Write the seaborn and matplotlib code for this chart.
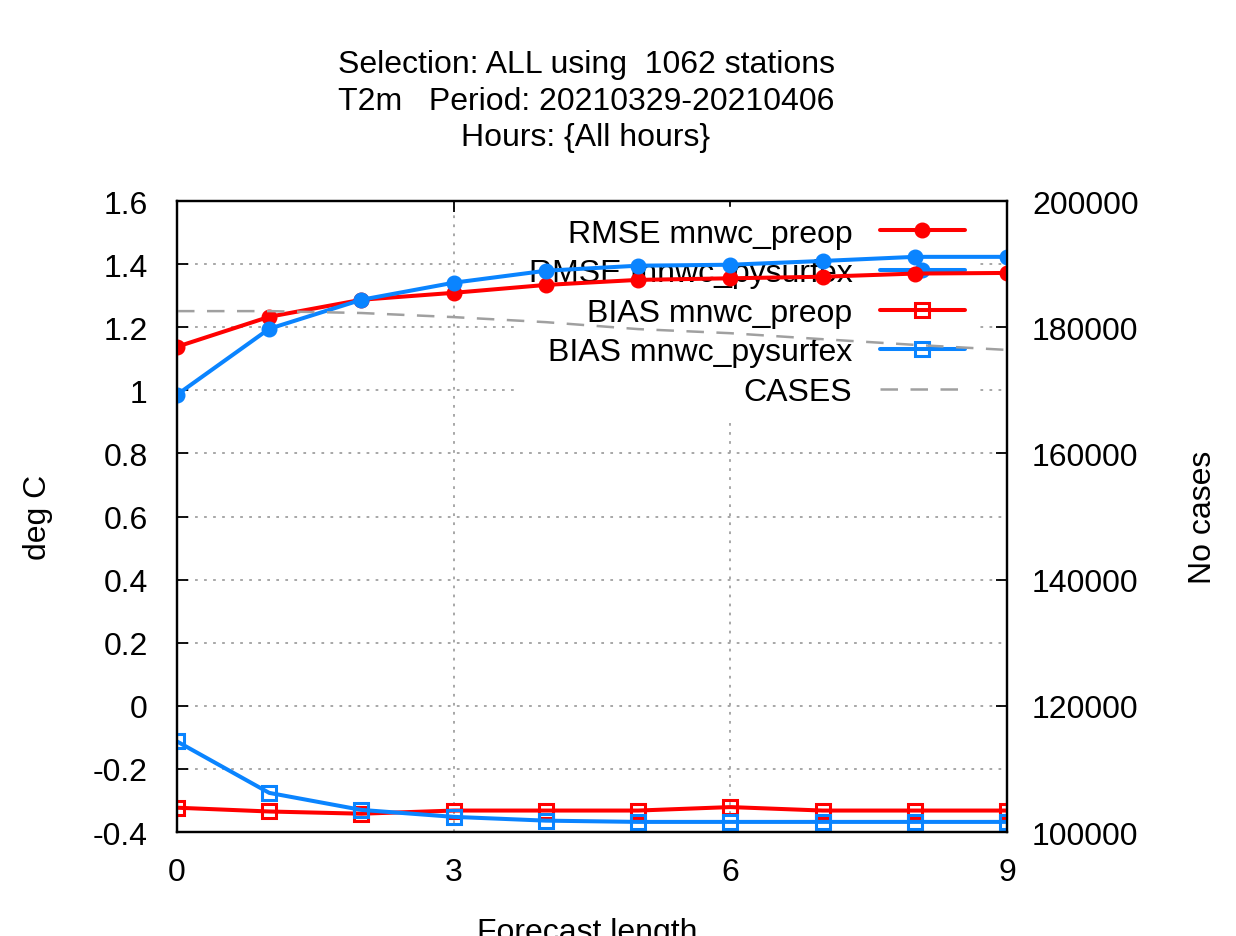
import matplotlib
matplotlib.use("Agg")
import matplotlib.pyplot as plt
import seaborn as sns


OUT_PATH = "out.png"

# forecast length (hours)
lead_times = [0, 1, 2, 3, 4, 5, 6, 7, 8, 9]

# scores
rmse_preop = [1.138, 1.233, 1.287, 1.309, 1.334, 1.350, 1.355, 1.360, 1.370, 1.372]
rmse_pysurfex = [0.986, 1.195, 1.287, 1.341, 1.379, 1.395, 1.398, 1.410, 1.423, 1.423]
bias_preop = [-0.323, -0.335, -0.342, -0.332, -0.332, -0.332, -0.321, -0.332, -0.332, -0.332]
bias_pysurfex = [-0.113, -0.276, -0.330, -0.352, -0.364, -0.368, -0.368, -0.368, -0.368, -0.368]
cases = [182550, 182550, 182250, 181600, 180800, 179700, 179050, 178100, 177200, 176400]

left_ticks = [-0.4, -0.2, 0, 0.2, 0.4, 0.6, 0.8, 1, 1.2, 1.4, 1.6]
left_tick_labels = ["-0.4", "-0.2", "0", "0.2", "0.4", "0.6", "0.8", "1", "1.2", "1.4", "1.6"]
right_ticks = [100000, 120000, 140000, 160000, 180000, 200000]
x_ticks = [0, 3, 6, 9]

title_lines = [
    "Selection: ALL using  1062 stations",
    "T2m   Period: 20210329-20210406",
    "Hours: {All hours}",
]

RED = "#ff0000"
BLUE = "#0a84ff"
GREY = "#a0a0a0"
FS = 23


def main():
    sns.set_style("white")
    plt.rcParams["font.family"] = ["Liberation Sans", "DejaVu Sans"]
    plt.rcParams["font.size"] = FS
    plt.rcParams["text.color"] = "black"
    plt.rcParams["axes.labelcolor"] = "black"
    plt.rcParams["xtick.color"] = "black"
    plt.rcParams["ytick.color"] = "black"

    fig = plt.figure(figsize=(12.36, 9.37), dpi=100)
    ax = fig.add_axes([0.1432, 0.11099, 0.67152, 0.67342])
    ax2 = ax.twinx()

    line_kw = dict(linewidth=2.9, zorder=3)
    sns.lineplot(x=lead_times, y=rmse_preop, ax=ax, color=RED, marker="o",
                 markersize=10.5, mfc=RED, mec=RED, mew=1,
                 label="RMSE mnwc_preop", **line_kw)
    sns.lineplot(x=lead_times, y=rmse_pysurfex, ax=ax, color=BLUE, marker="o",
                 markersize=10.5, mfc=BLUE, mec=BLUE, mew=1,
                 label="RMSE mnwc_pysurfex", **line_kw)
    sns.lineplot(x=lead_times, y=bias_preop, ax=ax, color=RED, marker="s",
                 markersize=10, mfc="none", mec=RED, mew=2.2,
                 label="BIAS mnwc_preop", **line_kw)
    sns.lineplot(x=lead_times, y=bias_pysurfex, ax=ax, color=BLUE, marker="s",
                 markersize=10, mfc="none", mec=BLUE, mew=2.2,
                 label="BIAS mnwc_pysurfex", **line_kw)
    sns.lineplot(x=lead_times, y=cases, ax=ax2, color=GREY, linewidth=1.8,
                 linestyle=(0, (7, 5)), label="CASES")

    ax.set_xlim(0, 9)
    ax.set_ylim(-0.4, 1.6)
    ax2.set_ylim(100000, 200000)

    ax.set_xticks(x_ticks)
    ax.set_yticks(left_ticks)
    ax.set_yticklabels(left_tick_labels)
    ax2.set_yticks(right_ticks)
    ax2.set_yticklabels([str(t) for t in right_ticks])

    ax.tick_params(axis="x", direction="in", length=8, width=1.3, top=True,
                   pad=18, labelsize=FS)
    ax.tick_params(axis="y", direction="in", length=8, width=1.3, right=False,
                   pad=21, labelsize=FS)
    ax2.tick_params(axis="y", direction="in", length=8, width=1.3, pad=18,
                    labelsize=FS)

    ax.grid(True, color=GREY, linestyle=(0, (1.5, 3.5)), linewidth=1.3)
    ax2.grid(False)
    for axis in (ax, ax2):
        for sp in axis.spines.values():
            sp.set_linewidth(1.6)
            sp.set_color("black")

    # x label sits low and is partly cut by the figure edge, as in the original
    ax.set_xlabel("Forecast length", fontsize=FS)
    ax.xaxis.label.set_va("baseline")
    ax.xaxis.set_label_coords(0.494, -0.171)
    ax.set_ylabel("deg C", fontsize=FS)
    ax.yaxis.label.set_va("center")
    ax.yaxis.set_label_coords(-0.168, 0.5)
    ax2.set_ylabel("No cases", fontsize=FS)
    ax2.yaxis.label.set_va("center")
    ax2.yaxis.set_label_coords(1.236, 0.5)

    # legend on the main axes, collecting the cases line from the twin axes
    h1, l1 = ax.get_legend_handles_labels()
    h2, l2 = ax2.get_legend_handles_labels()
    if ax2.get_legend() is not None:
        ax2.get_legend().remove()
    leg = ax.legend(h1 + h2, l1 + l2, loc="upper right",
                    bbox_to_anchor=(0.970, 1.0), markerfirst=False,
                    frameon=True, fancybox=False, framealpha=1,
                    edgecolor="white", facecolor="white",
                    handlelength=2.66, handletextpad=0.85, labelspacing=0.3,
                    borderpad=0.35, borderaxespad=0.2, fontsize=FS)
    leg.set_zorder(1)

    for i, line in enumerate(title_lines):
        fig.text(586 / 1236, 1 - (65 + 36.5 * i) / 937, line, ha="center",
                 va="center", fontsize=FS)

    fig.savefig(OUT_PATH, dpi=100)


if __name__ == "__main__":
    main()
